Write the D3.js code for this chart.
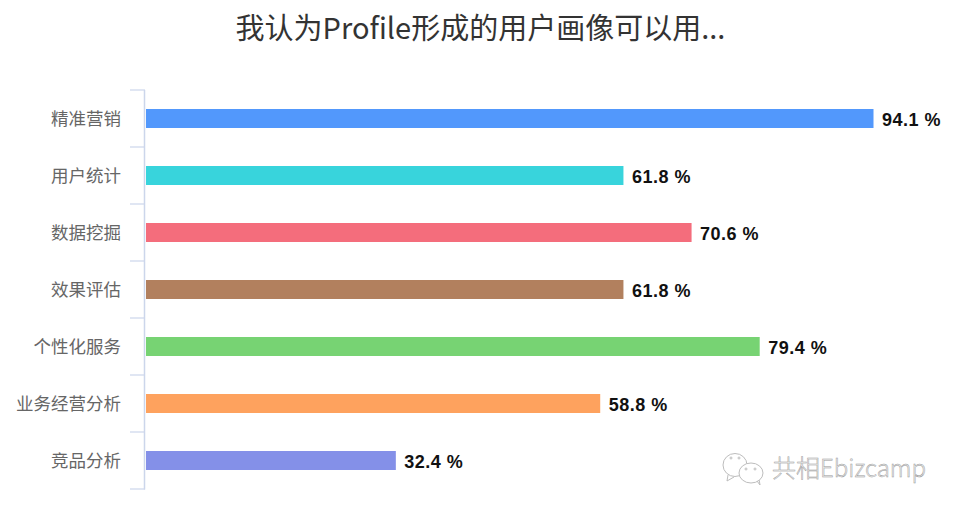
<!DOCTYPE html>
<html>
<head>
<meta charset="utf-8">
<script src="https://cdn.jsdelivr.net/npm/d3@7"></script>
<style>
body { margin: 0; background: #fff; }
text { font-family: "Noto Sans CJK SC", sans-serif; }
.val { font-family: "Liberation Sans", "Noto Sans CJK SC", sans-serif; letter-spacing: 0.5px; }
</style>
</head>
<body>
<script>
const categories = ['精准营销', '用户统计', '数据挖掘', '效果评估', '个性化服务', '业务经营分析', '竞品分析']
const values = [94.1, 61.8, 70.6, 61.8, 79.4, 58.8, 32.4]
const barColors = ['#5298fc', '#38d4dc', '#f46d7c', '#b2805e', '#77d373', '#fea25e', '#8490e8']

const width = 960
const height = 513
const axisColor = '#ccd6eb'

const svg = d3.select('body').append('svg')
    .attr('width', width)
    .attr('height', height)

const xScale = d3.scaleLinear().domain([0, 94.1]).range([145, 873.5])
const yScale = d3.scaleBand().domain(categories).range([90, 489])

//title
svg.append('text')
    .attr('x', 480.5).attr('y', 39)
    .attr('text-anchor', 'middle')
    .attr('font-size', 29)
    .attr('fill', '#333')
    .text('我认为Profile形成的用户画像可以用...')

//y axis with ticks between the bands
svg.append('line')
    .attr('x1', 144.5).attr('x2', 144.5)
    .attr('y1', 90).attr('y2', 489.5)
    .attr('stroke', axisColor)
    .attr('stroke-width', 1.5)

const edges = categories.map(c => yScale(c)).concat([yScale.range()[1]])
svg.selectAll('.tick-mark')
    .data(edges)
    .enter()
    .append('line')
    .attr('class', 'tick-mark')
    .attr('x1', 130).attr('x2', 145)
    .attr('y1', d => d).attr('y2', d => d)
    .attr('stroke', axisColor)
    .attr('stroke-width', 1.2)

svg.selectAll('.cat')
    .data(categories)
    .enter()
    .append('text')
    .attr('class', 'cat')
    .attr('x', 121)
    .attr('y', d => yScale(d) + yScale.bandwidth() / 2 + 6)
    .attr('text-anchor', 'end')
    .attr('font-size', 17.5)
    .attr('fill', '#666')
    .text(d => d)

const barHeight = 19
svg.selectAll('.bar')
    .data(values)
    .enter()
    .append('rect')
    .attr('class', 'bar')
    .attr('x', xScale(0) + 1)
    .attr('y', (d, i) => yScale(categories[i]) + yScale.bandwidth() / 2 - barHeight / 2)
    .attr('width', d => xScale(d) - xScale(0) - 1)
    .attr('height', barHeight)
    .attr('fill', (d, i) => barColors[i])

svg.selectAll('.val')
    .data(values)
    .enter()
    .append('text')
    .attr('class', 'val')
    .attr('x', d => xScale(d) + 8.5)
    .attr('y', (d, i) => yScale(categories[i]) + yScale.bandwidth() / 2 + 7.5)
    .attr('font-size', 18)
    .attr('font-weight', 700)
    .attr('fill', '#111')
    .text(d => d.toFixed(1) + ' %')

//watermark: wechat bubbles and account name
const mark = svg.append('g')
    .attr('fill', '#fff')
    .attr('stroke', '#bdbdbd')
    .attr('stroke-width', 1)

mark.append('path').attr('d', 'M728 475 L727 481 L734 477')
mark.append('ellipse').attr('cx', 735).attr('cy', 465).attr('rx', 12).attr('ry', 11.5)
mark.append('path').attr('d', 'M757 481 L760 485 L759 479')
mark.append('ellipse').attr('cx', 751).attr('cy', 473).attr('rx', 12).attr('ry', 10)
mark.selectAll('.eye')
    .data([[731, 458], [739, 458], [746, 469], [755, 469]])
    .enter()
    .append('circle')
    .attr('class', 'eye')
    .attr('cx', d => d[0]).attr('cy', d => d[1])
    .attr('r', 1)

svg.append('text')
    .attr('x', 772).attr('y', 477)
    .attr('font-size', 24)
    .attr('font-weight', 300)
    .attr('fill', '#ededed')
    .attr('stroke', '#999')
    .attr('stroke-width', 0.45)
    .text('共相Ebizcamp')
</script>
</body>
</html>
